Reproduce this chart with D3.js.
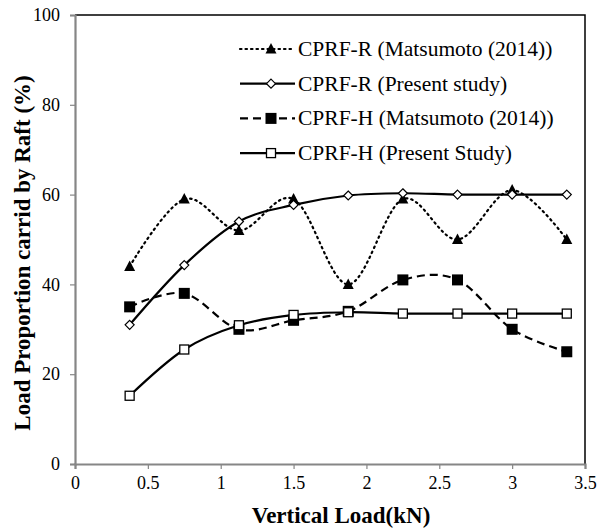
<!DOCTYPE html>
<html>
<head>
<meta charset="utf-8">
<script src="https://cdn.jsdelivr.net/npm/d3@7"></script>
<style>
  body { margin: 0; background: #fff; }
</style>
</head>
<body>
<div id="chart"></div>
<script>
// vertical load steps (kN)
const loads = [0.375, 0.75, 1.125, 1.5, 1.875, 2.25, 2.625, 3.0, 3.375];

const rMatsumoto = [44, 59, 52, 59, 40, 59, 50, 61, 50];
const rPresent   = [31, 44.3, 54, 57.7, 59.8, 60.3, 60, 60, 60];
const hMatsumoto = [35, 38, 30, 32, 34, 41, 41, 30, 25];
const hPresent   = [15.2, 25.5, 30.9, 33.2, 33.8, 33.5, 33.5, 33.5, 33.5];

const seriesNames = [
    "CPRF-R (Matsumoto (2014))",
    "CPRF-R (Present study)",
    "CPRF-H (Matsumoto (2014))",
    "CPRF-H (Present Study)"
];

const xTicks = [0, 0.5, 1, 1.5, 2, 2.5, 3, 3.5];
const yTicks = [0, 20, 40, 60, 80, 100];

const serif = "'Liberation Serif', 'Times New Roman', serif";
const width = 600, height = 529;
const margin = { top: 15, right: 15, bottom: 65, left: 75 };

const svg = d3.select("#chart").append("svg")
    .attr("width", width)
    .attr("height", height)
    .attr("font-family", serif);

const x = d3.scaleLinear()
    .domain([0, 3.5])
    .range([margin.left, width - margin.right]);

const y = d3.scaleLinear()
    .domain([0, 100])
    .range([height - margin.bottom, margin.top]);

const series = [
    { name: seriesNames[0], values: rMatsumoto, dash: "1.5 4", round: true, marker: "triangle" },
    { name: seriesNames[1], values: rPresent, dash: null, marker: "diamond" },
    { name: seriesNames[2], values: hMatsumoto, dash: "8 5", marker: "square" },
    { name: seriesNames[3], values: hPresent, dash: null, marker: "openSquare" }
];

// frame: top and right in black
svg.append("path")
    .attr("d", `M${x(0)},${y(100)}H${x(3.5)}V${y(0)}`)
    .attr("fill", "none")
    .attr("stroke", "#000")
    .attr("stroke-width", 1.5);

// axes
const xAxis = svg.append("g")
    .attr("transform", `translate(0,${y(0)})`)
    .call(d3.axisBottom(x).tickValues(xTicks).tickSize(5).tickPadding(7)
          .tickFormat(d => d));
const yAxis = svg.append("g")
    .attr("transform", `translate(${x(0)},0)`)
    .call(d3.axisLeft(y).tickValues(yTicks).tickSize(5).tickPadding(10));

[xAxis, yAxis].forEach(g => {
    g.attr("font-family", serif).attr("font-size", 18);
    g.select(".domain").attr("stroke", "#868686").attr("stroke-width", 2.2);
    g.selectAll(".tick line").attr("stroke", "#868686").attr("stroke-width", 1.2);
    g.selectAll(".tick text").attr("fill", "#000");
});

// axis titles
svg.append("text")
    .attr("x", 341)
    .attr("y", 523)
    .attr("text-anchor", "middle")
    .attr("font-size", 23)
    .attr("font-weight", "bold")
    .text("Vertical Load(kN)");

svg.append("text")
    .attr("transform", `translate(30,${253}) rotate(-90)`)
    .attr("text-anchor", "middle")
    .attr("font-size", 23)
    .attr("font-weight", "bold")
    .text("Load Proportion carrid by Raft (%)");

const line = d3.line()
    .x((d, i) => x(loads[i]))
    .y(d => y(d))
    .curve(d3.curveCatmullRom.alpha(0));

function drawMarker(g, type) {
    if (type === "triangle") {
        g.append("path").attr("d", "M0,-6L5.5,4.5L-5.5,4.5Z").attr("fill", "#000");
    } else if (type === "diamond") {
        g.append("path").attr("d", "M0,-4.5L4.5,0L0,4.5L-4.5,0Z")
            .attr("fill", "#fff").attr("stroke", "#000").attr("stroke-width", 1.2);
    } else if (type === "square") {
        g.append("rect").attr("x", -5.5).attr("y", -5.5).attr("width", 11).attr("height", 11)
            .attr("fill", "#000");
    } else {
        g.append("rect").attr("x", -4.5).attr("y", -4.5).attr("width", 9).attr("height", 9)
            .attr("fill", "#fff").attr("stroke", "#000").attr("stroke-width", 1.3);
    }
}

const plot = svg.append("g");

series.forEach(s => {
    plot.append("path")
        .attr("d", line(s.values))
        .attr("fill", "none")
        .attr("stroke", "#000")
        .attr("stroke-width", 2.2)
        .attr("stroke-linecap", s.round ? "round" : "butt")
        .attr("stroke-dasharray", s.dash);
});

series.forEach(s => {
    s.values.forEach((v, i) => {
        const g = plot.append("g").attr("transform", `translate(${x(loads[i])},${y(v)})`);
        drawMarker(g, s.marker);
    });
});

// legend
const legend = svg.append("g");
series.forEach((s, i) => {
    const ly = 49 + i * 34.7;
    const g = legend.append("g").attr("transform", `translate(0,${ly})`);
    g.append("line")
        .attr("x1", 240).attr("x2", 295)
        .attr("stroke", "#000")
        .attr("stroke-width", 2.2)
        .attr("stroke-linecap", s.round ? "round" : "butt")
        .attr("stroke-dasharray", s.dash);
    drawMarker(g.append("g").attr("transform", "translate(271,0)"), s.marker);
    g.append("text")
        .attr("x", 298)
        .attr("y", 7)
        .attr("font-size", 21.5)
        .text(s.name);
});
</script>
</body>
</html>
